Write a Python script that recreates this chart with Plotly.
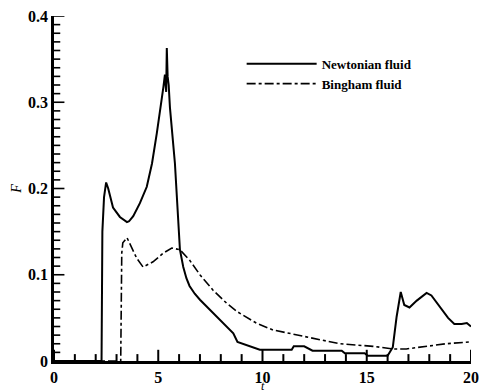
import plotly.graph_objects as go

# Newtonian fluid
t_newt = [0, 2.28, 2.32, 2.4, 2.5, 2.6, 2.83, 3.16, 3.5, 3.6, 3.8, 4.12, 4.45, 4.7, 4.93,
          5.17, 5.25, 5.32, 5.38, 5.41, 5.45, 5.5, 5.56, 5.8, 5.94, 6.04, 6.2, 6.35, 6.5,
          6.75, 7.0, 7.4, 7.8, 8.2, 8.6, 8.8, 9.15, 9.87, 11.4, 11.5, 12.0, 12.4, 13.8,
          13.95, 14.9, 15.05, 16.0, 16.25, 16.43, 16.63, 16.8, 17.05, 17.4, 17.87, 18.1,
          18.5, 18.9, 19.2, 19.55, 19.8, 20.0]
F_newt = [0, 0, 0.15, 0.19, 0.207, 0.2, 0.178, 0.167, 0.161, 0.162, 0.168, 0.183, 0.202,
          0.229, 0.264, 0.302, 0.318, 0.332, 0.312, 0.363, 0.33, 0.32, 0.294, 0.229,
          0.17, 0.129, 0.109, 0.096, 0.087, 0.078, 0.071, 0.061, 0.052, 0.042, 0.032,
          0.022, 0.019, 0.013, 0.013, 0.017, 0.017, 0.012, 0.012, 0.009, 0.009, 0.006,
          0.006, 0.016, 0.051, 0.080, 0.065, 0.062, 0.070, 0.079, 0.076, 0.063, 0.050,
          0.043, 0.043, 0.044, 0.040]

# Bingham fluid
t_bing = [0, 3.2, 3.25, 3.3, 3.5, 3.72, 3.97, 4.27, 4.75, 5.24, 5.65, 6.04, 6.5, 7.0,
          7.63, 8.28, 8.8, 9.7, 10.5, 12.1, 13.7, 15.3, 16.25, 16.9, 17.87, 18.8, 19.9, 20.0]
F_bing = [0, 0, 0.125, 0.137, 0.143, 0.132, 0.119, 0.109, 0.115, 0.125, 0.131, 0.129,
          0.117, 0.100, 0.082, 0.067, 0.057, 0.044, 0.036, 0.028, 0.020, 0.017, 0.014,
          0.014, 0.017, 0.020, 0.022, 0.022]

x_ticks = [0, 5, 10, 15, 20]
x_minor_ticks = list(range(0, 21))
y_ticks = [0, 0.1, 0.2, 0.3, 0.4]
y_minor_ticks = [round(i * 0.01, 2) for i in range(41)]
y_tick_text = ["0", "0.1", "0.2", "0.3", "0.4"]

font_family = "Liberation Serif"

fig = go.Figure()
fig.add_trace(go.Scatter(x=t_newt, y=F_newt, mode="lines", name="Newtonian fluid",
                         line=dict(color="black", width=2)))
fig.add_trace(go.Scatter(x=t_bing, y=F_bing, mode="lines", name="Bingham fluid",
                         line=dict(color="black", width=1.6, dash="dashdot")))


def tick_trace(values, majors, along_x, width):
    # inward tick marks drawn as short segments through the axis scales
    xs, ys = [], []
    for v in values:
        major = any(abs(v - m) < 1e-9 for m in majors)
        if along_x:
            ln = 0.013 if major else 0.008
            xs += [v, v, None]
            ys += [0, ln, None]
        else:
            ln = 0.5 if major else 0.3
            xs += [0, ln, None]
            ys += [v, v, None]
    return go.Scatter(x=xs, y=ys, mode="lines", showlegend=False, hoverinfo="skip",
                      line=dict(color="black", width=width), cliponaxis=False)


fig.add_trace(tick_trace(x_minor_ticks, x_ticks, True, 2))
fig.add_trace(tick_trace(y_minor_ticks, y_ticks, False, 1.6))

fig.update_layout(
    width=479, height=392,
    margin=dict(l=54, r=8, t=16, b=31),
    paper_bgcolor="white", plot_bgcolor="white",
    font=dict(family=font_family, color="black", size=14),
    legend=dict(x=0.45, y=0.905, xanchor="left", yanchor="top",
                bgcolor="rgba(0,0,0,0)", tracegroupgap=0,
                font=dict(family=font_family, size=13, color="black", weight="bold"),
                itemwidth=70),
    xaxis=dict(range=[0, 20], tickmode="array", tickvals=x_ticks, ticks="",
               automargin=False,
               showline=True, linewidth=2.5, linecolor="black", showgrid=False, zeroline=False,
               tickfont=dict(family=font_family, size=16, weight="bold")),
    yaxis=dict(range=[0, 0.4], tickmode="array", tickvals=y_ticks, ticktext=y_tick_text,
               ticks="", automargin=False,
               showline=True, linewidth=2.5, linecolor="black",
               showgrid=False, zeroline=False,
               tickfont=dict(family=font_family, size=16, weight="bold"),
               title=dict(text="<i>F</i>", standoff=4, font=dict(size=14, family=font_family))),
    annotations=[dict(text="<i>t</i>", xref="paper", yref="paper", x=0.5, y=0,
                      yshift=-16, xanchor="center", yanchor="top", showarrow=False,
                      font=dict(size=12, family=font_family, color="black"))],
)

fig.write_html("out.html")
